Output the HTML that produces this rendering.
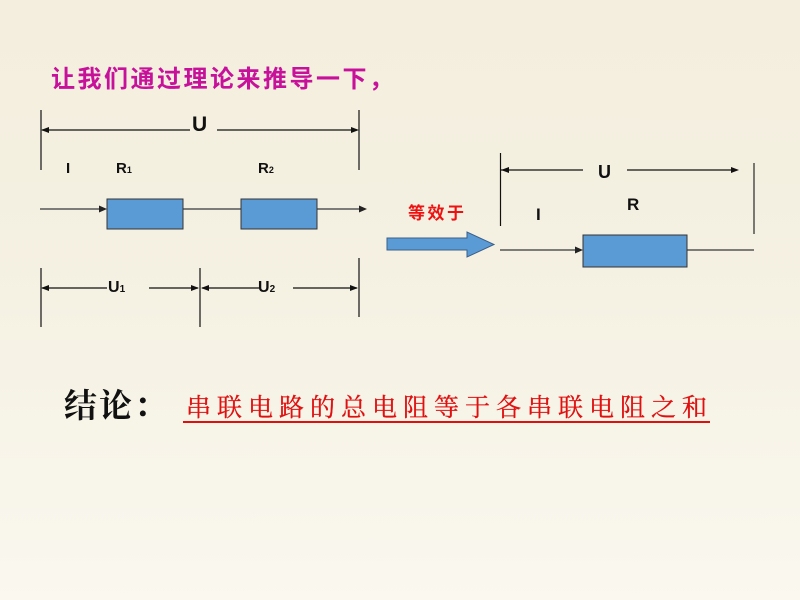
<!DOCTYPE html>
<html>
<head>
<meta charset="utf-8">
<style>
html,body{margin:0;padding:0;width:800px;height:600px;overflow:hidden;}
body{background:linear-gradient(180deg,#F3EEDD 0%,#F5F1E3 50%,#FAF8EF 100%);}
svg{position:absolute;left:0;top:0;}
.lat{font-family:"Liberation Sans",Arial,sans-serif;font-weight:bold;fill:#111;}
.cjk{font-family:"Liberation Sans","Noto Sans CJK SC",sans-serif;font-weight:bold;}
.ser{font-family:"Liberation Serif","Noto Serif CJK SC",serif;}
</style>
</head>
<body>
<svg width="800" height="600" viewBox="0 0 800 600" xmlns="http://www.w3.org/2000/svg">
  <!-- Title -->
  <text class="cjk" font-size="24" fill="#C8119B" y="87"
    x="51 77.5 104 130.5 157 183.5 210 236.5 263 289.5 316 342.5 369">让我们通过理论来推导一下，</text>

  <!-- Top dimension U -->
  <g stroke="#111" stroke-width="1.2" fill="none">
    <line x1="41" y1="110" x2="41" y2="170"/>
    <line x1="359" y1="110" x2="359" y2="170"/>
    <line x1="42" y1="130" x2="190" y2="130"/>
    <line x1="217" y1="130" x2="357" y2="130"/>
  </g>
  <g fill="#111">
    <polygon points="41,130 49,127 49,133"/>
    <polygon points="359,130 351,127 351,133"/>
  </g>
  <text class="lat" font-size="21" x="192" y="131">U</text>

  <text class="lat" font-size="15" x="66" y="173">I</text>
  <text class="lat" font-size="15" x="116" y="173">R<tspan font-size="9">1</tspan></text>
  <text class="lat" font-size="15" x="258" y="173">R<tspan font-size="9">2</tspan></text>

  <!-- Circuit series -->
  <g stroke="#555" stroke-width="1.5">
    <line x1="40" y1="209" x2="103" y2="209"/>
    <line x1="183" y1="209" x2="241" y2="209"/>
    <line x1="317" y1="209" x2="362" y2="209"/>
  </g>
  <g fill="#222">
    <polygon points="107,209 99,205.5 99,212.5"/>
    <polygon points="367,209 359,205.5 359,212.5"/>
  </g>
  <rect x="107" y="199" width="76" height="30" fill="#5B9BD5" stroke="#333" stroke-width="1"/>
  <rect x="241" y="199" width="76" height="30" fill="#5B9BD5" stroke="#333" stroke-width="1"/>

  <!-- U1 U2 dimensions -->
  <g stroke="#111" stroke-width="1.2">
    <line x1="41" y1="268" x2="41" y2="327"/>
    <line x1="200" y1="268" x2="200" y2="327"/>
    <line x1="359" y1="258" x2="359" y2="317"/>
    <line x1="42" y1="288" x2="107" y2="288"/>
    <line x1="149" y1="288" x2="198" y2="288"/>
    <line x1="202" y1="288" x2="260" y2="288"/>
    <line x1="293" y1="288" x2="357" y2="288"/>
  </g>
  <g fill="#111">
    <polygon points="41,288 49,285 49,291"/>
    <polygon points="199,288 191,285 191,291"/>
    <polygon points="201,288 209,285 209,291"/>
    <polygon points="358,288 350,285 350,291"/>
  </g>
  <text class="lat" font-size="16" x="108" y="292">U<tspan font-size="10">1</tspan></text>
  <text class="lat" font-size="16" x="258" y="292">U<tspan font-size="10">2</tspan></text>

  <!-- 等效于 -->
  <text class="cjk" font-size="17" fill="#EE1111" y="219" x="408 427.5 447">等效于</text>
  <polygon points="387,238 467,238 467,232 494,244.5 467,257 467,250 387,250" fill="#5B9BD5" stroke="#3A5F8A" stroke-width="1"/>

  <!-- Right dimension -->
  <g stroke="#111" stroke-width="1.2">
    <line x1="500.5" y1="153" x2="500.5" y2="226"/>
    <line x1="501" y1="170" x2="583" y2="170"/>
    <line x1="627" y1="170" x2="736" y2="170"/>
  </g>
  <line x1="754" y1="163" x2="754" y2="234" stroke="#444" stroke-width="1.4"/>
  <g fill="#111">
    <polygon points="501,170 509,167 509,173"/>
    <polygon points="739,170 731,167 731,173"/>
  </g>
  <text class="lat" font-size="18" x="598" y="178">U</text>
  <text class="lat" font-size="17" x="627" y="210">R</text>
  <text class="lat" font-size="17" x="536" y="220">I</text>

  <!-- Right circuit -->
  <g stroke="#555" stroke-width="1.5">
    <line x1="500" y1="250" x2="578" y2="250"/>
    <line x1="687" y1="250" x2="754" y2="250"/>
  </g>
  <polygon points="583,250 575,246.5 575,253.5" fill="#222"/>
  <rect x="583" y="235" width="104" height="32" fill="#5B9BD5" stroke="#333" stroke-width="1"/>

  <!-- Conclusion -->
  <text class="ser" font-size="33" font-weight="bold" fill="#111" y="417" x="64 99 134">结论：</text>
  <text class="ser" font-size="25" fill="#E01010" stroke="#E01010" stroke-width="0.3" y="416"
    x="186 217 248 279 310 341 372 403 434 465 496 527 558 589 620 651 682">串联电路的总电阻等于各串联电阻之和</text>
  <line x1="183" y1="422" x2="710" y2="422" stroke="#E01010" stroke-width="2"/>
</svg>
</body>
</html>
